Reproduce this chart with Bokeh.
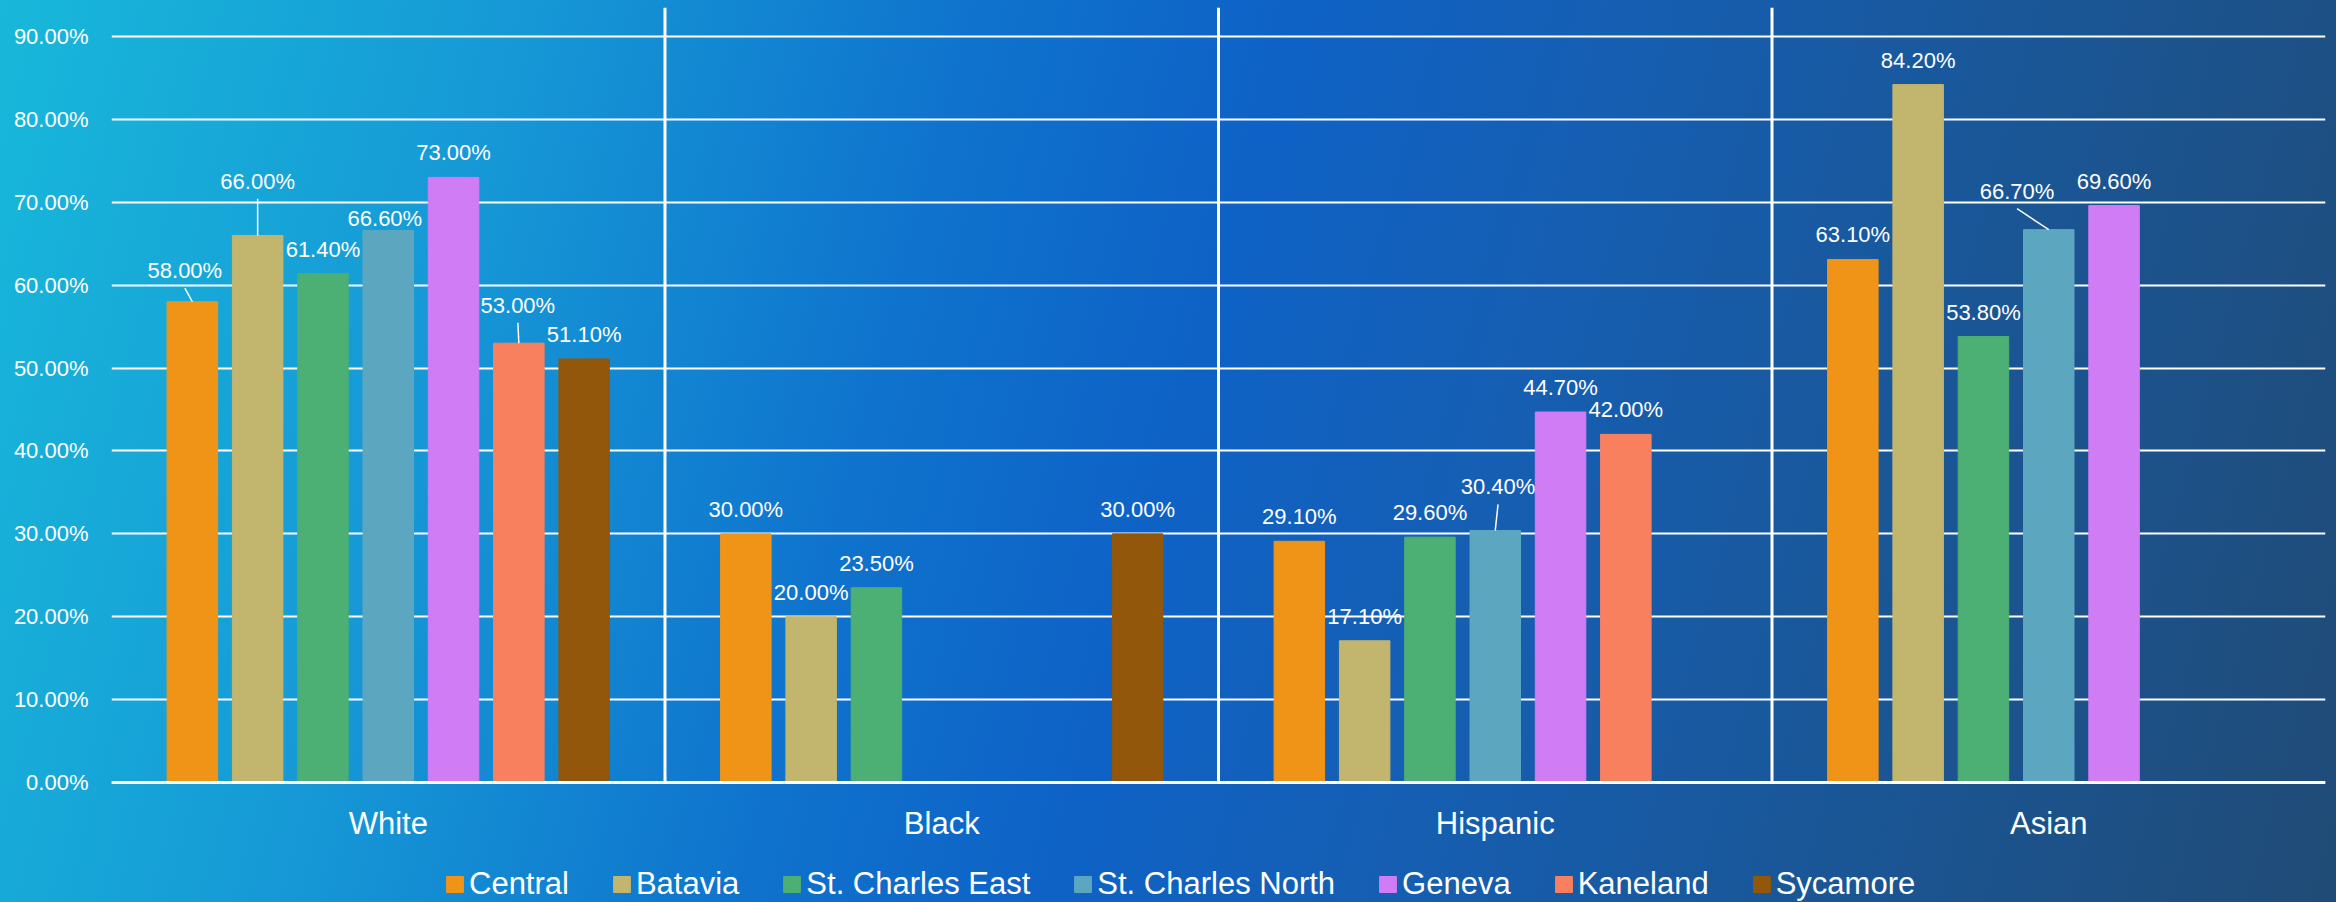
from bokeh.plotting import figure
from bokeh.models import (FixedTicker, PrintfTickFormatter, Legend, LegendItem,
                          ColumnDataSource, Range1d, Span)
from bokeh.core.properties import value
from bokeh.embed import file_html
from bokeh.resources import INLINE

# ---------------- data ----------------
categories = ["White", "Black", "Hispanic", "Asian"]
series_names = ["Central", "Batavia", "St. Charles East", "St. Charles North",
                "Geneva", "Kaneland", "Sycamore"]
central = [58.0, 30.0, 29.1, 63.1]
batavia = [66.0, 20.0, 17.1, 84.2]
st_charles_east = [61.4, 23.5, 29.6, 53.8]
st_charles_north = [66.6, None, 30.4, 66.7]
geneva = [73.0, None, 44.7, 69.6]
kaneland = [53.0, None, 42.0, None]
sycamore = [51.1, 30.0, None, None]
series_values = [central, batavia, st_charles_east, st_charles_north, geneva, kaneland, sycamore]
y_ticks = [0, 10, 20, 30, 40, 50, 60, 70, 80, 90]

# ---------------- style ----------------
colors = ["#F09418", "#C2B56E", "#4CAF74", "#5CA6C0", "#D07CF5", "#F9805F", "#92570A"]
FONT = "Liberation Sans"
W, H = 2336, 902
FRAME_L, FRAME_R, FRAME_T = 111, 2325, 7
ZERO_Y = 782                       # screen row of the 0% baseline
PX_Y = (ZERO_Y - 36) / 90.0        # px per percentage point
Y_END = (ZERO_Y - FRAME_T) / PX_Y
Y_START = -(H - ZERO_Y) / PX_Y
PX_X = (FRAME_R - FRAME_L) / len(categories)
STEP = 65.3 / PX_X
BAR_W = 50.5 / PX_X

# per-label pixel shifts (dx, dy, leader) for labels Excel moved
DEFAULT_SHIFT = (0.0, -16.5, False)
LABEL_SHIFT = {
    ("White", "Central"): (-7.5, -23.1, True),
    ("White", "Batavia"): (0.0, -46.2, True),
    ("White", "St. Charles North"): (-3.4, -3.7, False),
    ("White", "Kaneland"): (-1.0, -29.9, True),
    ("Hispanic", "St. Charles North"): (2.8, -35.7, True),
    ("Asian", "St. Charles North"): (-31.7, -30.5, True),
}
LEADER_GAP = 9.5
TEXT_FIX = -8.0      # SVG baseline correction for the value labels

p = figure(width=W, height=H, output_backend="svg", toolbar_location=None,
           x_range=Range1d(0, len(categories)), y_range=Range1d(Y_START, Y_END),
           min_border_left=FRAME_L, min_border_right=W - FRAME_R,
           min_border_top=FRAME_T, min_border_bottom=0,
           x_axis_location=None, title_location=None)
p.styles = {
    "background": "linear-gradient(105deg, #18b8da 0%, #1699d6 20%, #0f73cd 38%, "
                  "#0e62c6 50%, #155fb4 62%, #1a5696 80%, #204b76 100%)",
}
p.background_fill_alpha = 0
p.border_fill_alpha = 0
p.outline_line_color = None
p.xgrid.visible = False

# horizontal gridlines and baseline
p.ygrid.ticker = FixedTicker(ticks=y_ticks)
p.ygrid.grid_line_color = "white"
p.ygrid.grid_line_width = 2
p.add_layout(Span(location=0, dimension="width", line_color="white", line_width=3))

# vertical separators between categories (from baseline to top)
sep_x = list(range(1, len(categories)))
p.segment(x0=sep_x, y0=[0] * len(sep_x), x1=sep_x, y1=[Y_END] * len(sep_x),
          line_color="white", line_width=3)

renderers = []
lab_x, lab_y, lab_t, lab_dx, lab_dy = [], [], [], [], []
ld_x0, ld_y0, ld_x1, ld_y1 = [], [], [], []
for s, (name, vals, col) in enumerate(zip(series_names, series_values, colors)):
    xs, tops = [], []
    for c, (cat, v) in enumerate(zip(categories, vals)):
        if v is None:
            continue
        x = c + 0.5 + (s - (len(series_names) - 1) / 2) * STEP
        xs.append(x)
        tops.append(v)
        dx, dy, leader = LABEL_SHIFT.get((cat, name), DEFAULT_SHIFT)
        lab_x.append(x); lab_y.append(v); lab_t.append(f"{v:.2f}%")
        lab_dx.append(dx); lab_dy.append(dy + TEXT_FIX)
        if leader:
            ld_x0.append(x); ld_y0.append(v)
            ld_x1.append(x + dx / PX_X)
            ld_y1.append(v + (-dy - LEADER_GAP) / PX_Y)
    src = ColumnDataSource(dict(x=xs, top=tops))
    r = p.vbar(x="x", top="top", bottom=0, width=BAR_W, source=src, fill_color=col,
               line_color=col, line_width=1)
    renderers.append((name, r))

p.segment(x0=ld_x0, y0=ld_y0, x1=ld_x1, y1=ld_y1, line_color="white", line_width=1.5)

lsrc = ColumnDataSource(dict(x=lab_x, y=lab_y, t=lab_t, dx=lab_dx, dy=lab_dy))
p.text(x="x", y="y", text="t", x_offset="dx", y_offset="dy", source=lsrc,
       text_align="center", text_baseline="alphabetic", text_color="white",
       text_font=value(FONT), text_font_size="22px")

# category labels under the baseline
csrc = ColumnDataSource(dict(x=[c + 0.5 for c in range(len(categories))],
                             y=[0] * len(categories), t=categories))
p.text(x="x", y="y", text="t", source=csrc, y_offset=41,
       text_align="center", text_baseline="alphabetic", text_color="white",
       text_font=value(FONT), text_font_size="31px")

# y axis
p.yaxis.ticker = FixedTicker(ticks=y_ticks)
p.yaxis.formatter = PrintfTickFormatter(format="%.2f%%")
p.yaxis.axis_line_color = None
p.yaxis.major_tick_line_color = None
p.yaxis.minor_tick_line_color = None
p.yaxis.major_label_text_color = "white"
p.yaxis.major_label_text_font = FONT
p.yaxis.major_label_text_font_size = "22px"
p.yaxis.major_label_standoff = 17

legend = Legend(items=[LegendItem(label=n, renderers=[r]) for n, r in renderers],
                orientation="horizontal", location=(444 - FRAME_L, 0),
                padding=0, margin=0, spacing=42, glyph_width=21, glyph_height=20,
                label_standoff=4, label_height=36,
                label_text_font=FONT, label_text_font_size="31px",
                label_text_color="white", background_fill_alpha=0,
                border_line_color=None)
p.add_layout(legend, "center")

html = file_html(p, INLINE, title="Chart")
open("out.html", "w").write(html)
